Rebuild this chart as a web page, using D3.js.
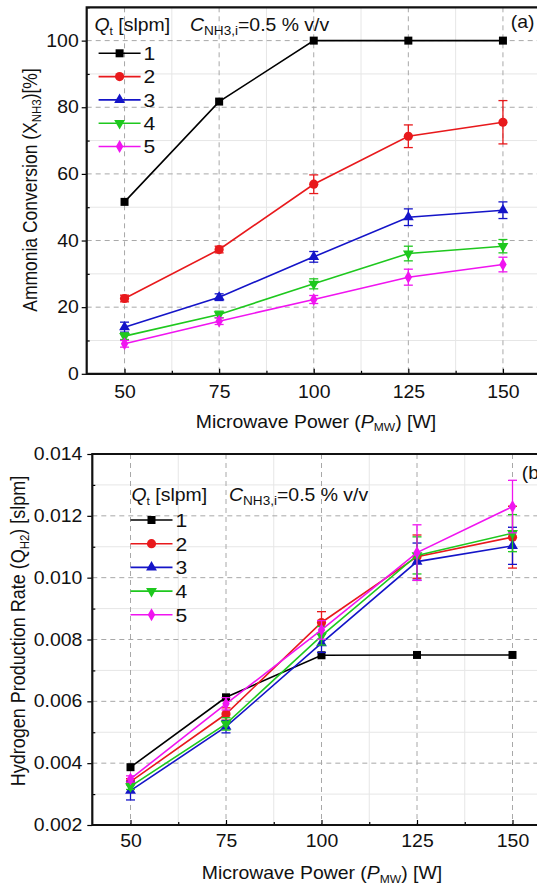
<!DOCTYPE html>
<html><head><meta charset="utf-8">
<script src="https://cdn.jsdelivr.net/npm/d3@7/dist/d3.min.js"></script>
<style>
body{margin:0;background:#fff;}
svg{font-family:"Liberation Sans",Arial,sans-serif;}
</style></head>
<body><svg id="c" width="537" height="886"></svg>
<script>
const powers = [50, 75, 100, 125, 150];
const seriesNames = ["1", "2", "3", "4", "5"];
const colors = ["#000000", "#e8191c", "#1414c8", "#1ec81e", "#f014f0"];
const markers = ["square", "circle", "triangle", "triangleDown", "diamond"];

// Panel (a): ammonia conversion [%]
const convS1 = [51.6, 81.7, 100, 100, 100];
const convS2 = [22.6, 37.3, 56.9, 71.3, 75.5];
const convS3 = [14.0, 23.0, 35.1, 47.0, 49.1];
const convS4 = [11.3, 17.8, 27.0, 36.1, 38.3];
const convS5 = [9.0, 15.8, 22.3, 29.0, 32.8];
const convErr1 = [0, 0, 0, 0, 0];
const convErr2 = [1.0, 1.0, 2.8, 3.4, 6.5];
const convErr3 = [1.5, 1.0, 1.6, 2.5, 2.5];
const convErr4 = [1.0, 1.0, 1.5, 2.2, 2.0];
const convErr5 = [1.0, 1.0, 1.2, 2.4, 2.2];
const convTicks = [0, 20, 40, 60, 80, 100];

// Panel (b): hydrogen production rate [slpm]
const h2S1 = [0.00387, 0.00613, 0.00749, 0.0075, 0.0075];
const h2S2 = [0.00340, 0.00559, 0.00855, 0.01068, 0.01131];
const h2S3 = [0.00311, 0.00518, 0.00788, 0.01052, 0.01103];
const h2S4 = [0.00325, 0.00527, 0.00812, 0.01072, 0.01144];
const h2S5 = [0.00349, 0.00592, 0.00831, 0.01081, 0.01230];
const h2Err1 = [0, 0, 0, 0, 0];
const h2Err2 = [0.0001, 0.0002, 0.00035, 0.0007, 0.0010];
const h2Err3 = [0.0003, 0.0002, 0.0003, 0.0006, 0.0006];
const h2Err4 = [0.0001, 0.0002, 0.0003, 0.0006, 0.0006];
const h2Err5 = [0.0001, 0.0002, 0.0003, 0.0009, 0.00085];
const h2Ticks = [0.002, 0.004, 0.006, 0.008, 0.010, 0.012, 0.014];
const xTicks = [50, 75, 100, 125, 150];

const svg = d3.select("#c");
const STRETCH = 1.11;

function markerPath(type, s) {
  if (type === "square") return d3.symbol(d3.symbolSquare, s * s)();
  if (type === "circle") return d3.symbol(d3.symbolCircle, Math.PI * (s / 2 + 0.6) ** 2)();
  if (type === "triangle") return d3.symbol(d3.symbolTriangle, s * s * 0.8)();
  if (type === "triangleDown") return d3.symbol(d3.symbolTriangle, s * s * 0.8)();
  if (type === "diamond") return d3.symbol(d3.symbolDiamond, s * s * 0.75)();
}

function panel(cfg) {
  const g = svg.append("g");
  const x = d3.scaleLinear().domain([40, 165]).range([cfg.left, cfg.left + 125 / 25 * cfg.px25]);
  const y = d3.scaleLinear().domain(cfg.yDomain).range([cfg.bottom, cfg.top]);
  const xr = 537;
  const xMinor = [62.5, 87.5, 112.5, 137.5, 162.5];
  g.selectAll(".xmg").data(xMinor).enter().append("line")
    .attr("x1", d => x(d)).attr("x2", d => x(d)).attr("y1", cfg.top).attr("y2", cfg.bottom)
    .attr("stroke", "#e6e6e6").attr("stroke-width", 1);
  g.selectAll(".ymg").data(cfg.yMinor).enter().append("line")
    .attr("x1", cfg.left).attr("x2", xr).attr("y1", d => y(d)).attr("y2", d => y(d))
    .attr("stroke", "#e6e6e6").attr("stroke-width", 1);
  g.selectAll(".xg").data(xTicks).enter().append("line")
    .attr("x1", d => x(d)).attr("x2", d => x(d)).attr("y1", cfg.top).attr("y2", cfg.bottom)
    .attr("stroke", "#a8a8a8").attr("stroke-width", 1).attr("stroke-dasharray", "5,4");
  g.selectAll(".yg").data(cfg.yTicks.filter(t => t > cfg.yDomain[0] && t < cfg.yDomain[1])).enter().append("line")
    .attr("x1", cfg.left).attr("x2", xr).attr("y1", d => y(d)).attr("y2", d => y(d))
    .attr("stroke", "#a8a8a8").attr("stroke-width", 1).attr("stroke-dasharray", "5,4");

  // x axis: ticks inward
  const gx = g.append("g").attr("transform", `translate(0,${cfg.bottom})`)
    .call(d3.axisBottom(x).tickValues(xTicks).tickSizeInner(-5).tickSizeOuter(0).tickPadding(cfg.xPad));
  gx.select(".domain").remove();
  gx.selectAll("text").attr("font-size", cfg.fs).attr("fill", "#111").attr("dy", "0.75em");
  gx.selectAll("line").attr("stroke", "#000").attr("stroke-width", 1.2);
  const gxm = g.append("g").attr("transform", `translate(0,${cfg.bottom})`)
    .call(d3.axisBottom(x).tickValues(xMinor).tickSizeInner(-3).tickSizeOuter(0).tickFormat(""));
  gxm.select(".domain").remove();
  gxm.selectAll("line").attr("stroke", "#000").attr("stroke-width", 1.2);

  // y axis: major ticks outward, minor inward
  const gy = g.append("g").attr("transform", `translate(${cfg.left},0)`)
    .call(d3.axisLeft(y).tickValues(cfg.yTicks).tickSizeInner(5).tickSizeOuter(0).tickPadding(cfg.yPad)
      .tickFormat(cfg.yFmt));
  gy.select(".domain").remove();
  gy.selectAll("text").attr("font-size", cfg.fs).attr("fill", "#111");
  gy.selectAll("line").attr("stroke", "#000").attr("stroke-width", 1.2);
  const gym = g.append("g").attr("transform", `translate(${cfg.left},0)`)
    .call(d3.axisLeft(y).tickValues(cfg.yMinor).tickSizeInner(-3).tickSizeOuter(0).tickFormat(""));
  gym.select(".domain").remove();
  gym.selectAll("line").attr("stroke", "#000").attr("stroke-width", 1.2);

  // frame
  g.append("path").attr("d", `M${xr + 5},${cfg.top}H${cfg.left}V${cfg.bottom}H${xr + 5}`)
    .attr("fill", "none").attr("stroke", "#111").attr("stroke-width", 2.2);

  // series
  cfg.series.forEach((vals, i) => {
    const col = colors[i];
    const errs = cfg.errors[i];
    const pts = powers.map((p, j) => ({ p, v: vals[j], e: errs[j] }));
    const sg = g.append("g");
    sg.append("path").datum(pts)
      .attr("d", d3.line().x(d => x(d.p)).y(d => y(d.v)))
      .attr("fill", "none").attr("stroke", col).attr("stroke-width", 1.6);
    const eb = sg.selectAll(".eb").data(pts.filter(d => d.e > 0)).enter().append("g");
    eb.append("line").attr("x1", d => x(d.p)).attr("x2", d => x(d.p))
      .attr("y1", d => y(d.v - d.e)).attr("y2", d => y(d.v + d.e)).attr("stroke", col).attr("stroke-width", 1.3);
    eb.append("line").attr("x1", d => x(d.p) - 4.5).attr("x2", d => x(d.p) + 4.5)
      .attr("y1", d => y(d.v - d.e)).attr("y2", d => y(d.v - d.e)).attr("stroke", col).attr("stroke-width", 1.3);
    eb.append("line").attr("x1", d => x(d.p) - 4.5).attr("x2", d => x(d.p) + 4.5)
      .attr("y1", d => y(d.v + d.e)).attr("y2", d => y(d.v + d.e)).attr("stroke", col).attr("stroke-width", 1.3);
    sg.selectAll(".mk").data(pts).enter().append("path")
      .attr("d", markerPath(markers[i], 8))
      .attr("transform", d => `translate(${x(d.p)},${y(d.v)})${markers[i] === "triangleDown" ? " rotate(180)" : ""}`)
      .attr("fill", col);
  });

  // legend
  const lg = g.append("g");
  const hdr = lg.append("text").attr("x", cfg.legHX).attr("y", cfg.legHeadY).attr("font-size", cfg.fs).attr("fill", "#111");
  hdr.append("tspan").attr("font-style", "italic").text("Q");
  hdr.append("tspan").attr("font-size", cfg.fs * 0.62).attr("dy", 4).text("t");
  hdr.append("tspan").attr("dy", -4).text(" [slpm]");
  const hdr2 = lg.append("text").attr("x", cfg.legX2).attr("y", cfg.legHeadY).attr("font-size", cfg.fs).attr("fill", "#111");
  hdr2.append("tspan").attr("font-style", "italic").text("C");
  hdr2.append("tspan").attr("font-size", cfg.fs * 0.7).attr("dy", 4).text("NH3,i");
  hdr2.append("tspan").attr("dy", -4).text("=0.5 % v/v");
  seriesNames.forEach((nm, i) => {
    const yy = cfg.legY0 + i * cfg.legDy;
    lg.append("line").attr("x1", cfg.legX).attr("x2", cfg.legX + 42).attr("y1", yy).attr("y2", yy)
      .attr("stroke", colors[i]).attr("stroke-width", 1.6);
    lg.append("path").attr("d", markerPath(markers[i], 8))
      .attr("transform", `translate(${cfg.legX + 21},${yy})${markers[i] === "triangleDown" ? " rotate(180)" : ""}`)
      .attr("fill", colors[i]);
    lg.append("text").attr("x", cfg.legX + 45).attr("y", yy).attr("dy", "0.36em")
      .attr("font-size", cfg.fs + 1.5).attr("fill", "#111").text(nm);
  });
  lg.append("text").attr("x", cfg.tagX).attr("y", cfg.tagY).attr("font-size", cfg.fs).attr("fill", "#111").text(cfg.tag);

  // x label
  const xl = g.append("text").attr("x", cfg.xLabX).attr("y", cfg.xLabY).attr("text-anchor", "middle")
    .attr("font-size", cfg.fs).attr("fill", "#111");
  xl.append("tspan").text("Microwave Power (");
  xl.append("tspan").attr("font-style", "italic").text("P");
  xl.append("tspan").attr("font-size", cfg.fs * 0.62).attr("dy", 4).text("MW");
  xl.append("tspan").attr("dy", -4).text(") [W]");
  // y label (rotated, not stretched along its length)
  const yl = g.append("text").attr("class", "rot")
    .attr("transform", `translate(${cfg.yLabX},${cfg.yLabY}) rotate(-90) scale(1,${STRETCH})`)
    .attr("text-anchor", "middle").attr("font-size", cfg.yLabFs).attr("fill", "#111");
  cfg.yLabel(yl);
}

panel({
  left: 86.7, top: 7.3, bottom: 373.8, px25: 94.6,
  yDomain: [0, 110], yTicks: convTicks, yMinor: [10, 30, 50, 70, 90, 110], yFmt: d3.format("d"),
  series: [convS1, convS2, convS3, convS4, convS5],
  errors: [convErr1, convErr2, convErr3, convErr4, convErr5],
  fs: 17.5, xPad: 11, yPad: 3,
  legX: 98.6, legHX: 94.5, legX2: 190, legHeadY: 31, legY0: 53.3, legDy: 23.3,
  tag: "(a)", tagX: 510.7, tagY: 28,
  xLabX: 316, xLabY: 427.5, yLabX: 37, yLabY: 190, yLabFs: 17.5,
  yLabel: t => {
    t.append("tspan").text("Ammonia Conversion (X");
    t.append("tspan").attr("font-size", 11.5).attr("dy", 4).text("NH3");
    t.append("tspan").attr("dy", -4).text(")[%]");
  }
});

panel({
  left: 92.3, top: 454, bottom: 825, px25: 95.5,
  yDomain: [0.002, 0.014], yTicks: h2Ticks, yMinor: [0.003, 0.005, 0.007, 0.009, 0.011, 0.013], yFmt: d3.format(".3f"),
  series: [h2S1, h2S2, h2S3, h2S4, h2S5],
  errors: [h2Err1, h2Err2, h2Err3, h2Err4, h2Err5],
  fs: 17.5, xPad: 9, yPad: 5,
  legX: 130.5, legHX: 131.5, legX2: 229, legHeadY: 501, legY0: 520, legDy: 23.7,
  tag: "(b)", tagX: 521.7, tagY: 479,
  xLabX: 322, xLabY: 879, yLabX: 25, yLabY: 631, yLabFs: 18,
  yLabel: t => {
    t.append("tspan").text("Hydrogen Production Rate (Q");
    t.append("tspan").attr("font-size", 11.5).attr("dy", 4).text("H2");
    t.append("tspan").attr("dy", -4).text(") [slpm]");
  }
});

// horizontal stretch of horizontal texts to match the reference's wide glyphs
svg.selectAll("text").filter(function () { return !this.classList.contains("rot"); }).each(function () {
  const t = d3.select(this);
  const tx = +t.attr("x") || 0, ty = +t.attr("y") || 0;
  const tr = t.attr("transform") || "";
  t.attr("transform", `${tr} translate(${tx},${ty}) scale(${STRETCH},1) translate(${-tx},${-ty})`);
});
</script></body></html>
